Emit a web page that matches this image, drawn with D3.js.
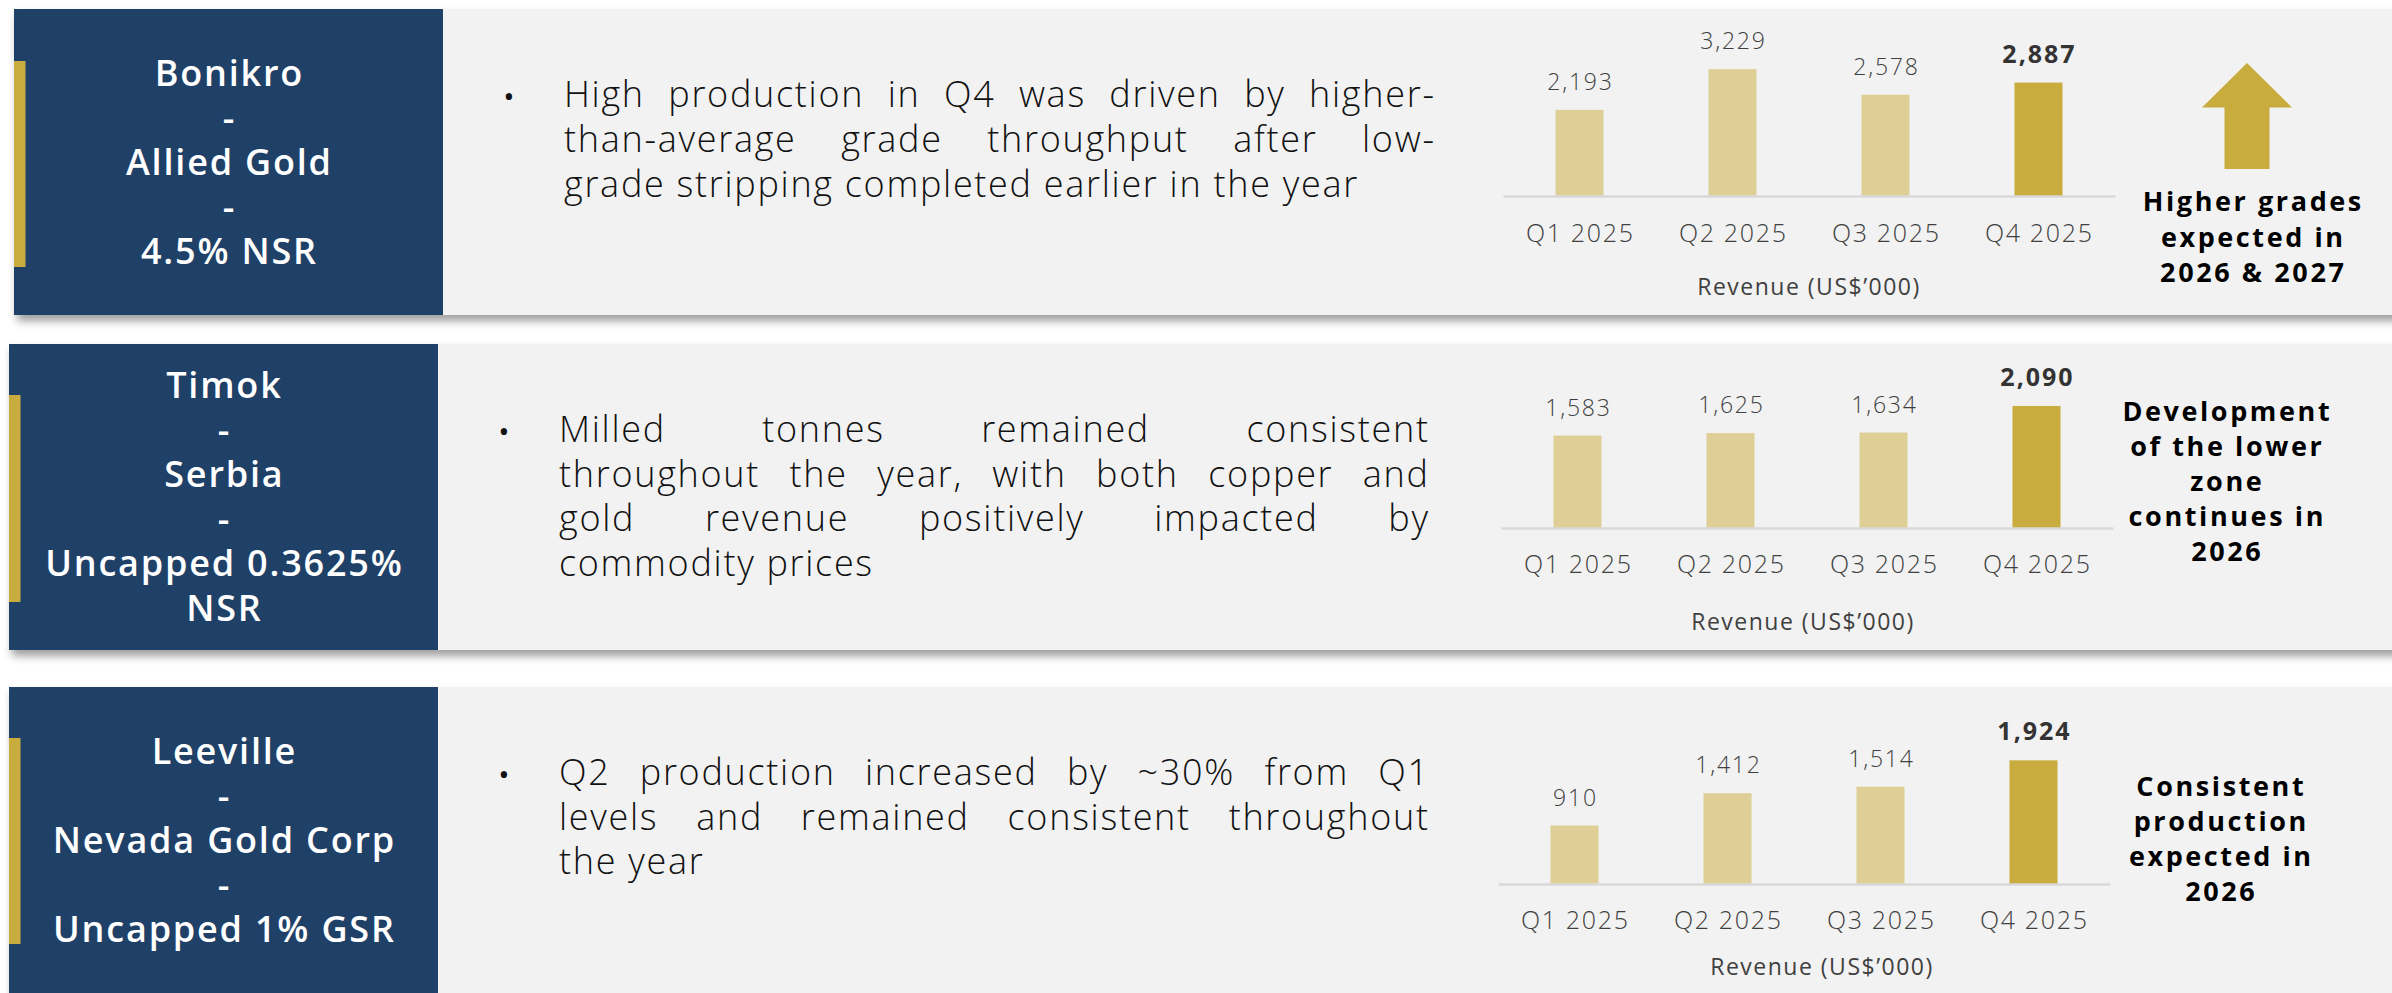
<!DOCTYPE html>
<html><head><meta charset="utf-8">
<script src="https://cdn.jsdelivr.net/npm/d3@7"></script>
<style>
html,body{margin:0;padding:0;background:#fff;}
svg{display:block;}
</style></head><body>
<svg id="chart" width="2392" height="993"></svg>
<script>
// ---------- DATA ----------
const quarters = ["Q1 2025", "Q2 2025", "Q3 2025", "Q4 2025"];
const bonikroRevenue = [2193, 3229, 2578, 2887];
const timokRevenue = [1583, 1625, 1634, 2090];
const leevilleRevenue = [910, 1412, 1514, 1924];
const axisMax = [3500, 2500, 2500];
const axisTitle = "Revenue (US$’000)";
const assetTitles = [
  ["Bonikro", "-", "Allied Gold", "-", "4.5% NSR"],
  ["Timok", "-", "Serbia", "-", "Uncapped 0.3625%", "NSR"],
  ["Leeville", "-", "Nevada Gold Corp", "-", "Uncapped 1% GSR"]
];
const bulletLines = [
  ["High production in Q4 was driven by higher-", "than-average grade throughput after low-", "grade stripping completed earlier in the year"],
  ["Milled tonnes remained consistent", "throughout the year, with both copper and", "gold revenue positively impacted by", "commodity prices"],
  ["Q2 production increased by ~30% from Q1", "levels and remained consistent throughout", "the year"]
];
const outlookLines = [
  ["Higher grades", "expected in", "2026 & 2027"],
  ["Development", "of the lower", "zone", "continues in", "2026"],
  ["Consistent", "production", "expected in", "2026"]
];
const series = [bonikroRevenue, timokRevenue, leevilleRevenue];

// ---------- LAYOUT ----------
const layout = [
  {top: 9, bottom: 315, dx0: 14, dx1: 443, gy0: 61, gy1: 267, titleY: 86,
   bulletX: 509, textX0: 564, textX1: 1434, textY: 107, textStep: 45,
   axisY: 196, axisX0: 1503, axisX1: 2115, plotH: 137.5, catY: 46, titleBase: 295, titleDx: 0,
   noteX: 2252, noteY: 211, noteStep: 35.5, arrow: true},
  {top: 344, bottom: 650, dx0: 9, dx1: 438, gy0: 395, gy1: 602, titleY: 398,
   bulletX: 504, textX0: 559, textX1: 1428, textY: 442, textStep: 44.5,
   axisY: 528, axisX0: 1501, axisX1: 2113, plotH: 146, catY: 45, titleBase: 630, titleDx: -4,
   noteX: 2226, noteY: 421, noteStep: 35, arrow: false},
  {top: 687, bottom: 1020, dx0: 9, dx1: 438, gy0: 738, gy1: 944, titleY: 764,
   bulletX: 504, textX0: 559, textX1: 1428, textY: 785, textStep: 44.5,
   axisY: 884, axisX0: 1498, axisX1: 2110, plotH: 160.7, catY: 45, titleBase: 975, titleDx: 18,
   noteX: 2220, noteY: 796, noteStep: 35, arrow: false}
];

const W = 2392, H = 993;
const FONT = "'Open Sans', 'Noto Sans', sans-serif";
const NAVY = "#1f4168", GOLD = "#c9ac3e", LIGHTGOLD = "#dfcf96", BG = "#f2f2f2", INK = "#404040";

const svg = d3.select("#chart");
const defs = svg.append("defs");
const f = defs.append("filter").attr("id", "sh").attr("x", "-5%").attr("y", "-20%").attr("width", "110%").attr("height", "150%");
f.append("feDropShadow").attr("dx", 3).attr("dy", 6).attr("stdDeviation", 4)
  .attr("flood-color", "#000").attr("flood-opacity", 0.38);

function justifyLine(g, text, x0, x1, y, justify, attrs) {
  const t = g.append("text").attr("y", y);
  Object.entries(attrs).forEach(([k, v]) => t.attr(k, v));
  if (!justify) { t.attr("x", x0).text(text); return; }
  const words = text.split(" ");
  const spans = words.map(w => t.append("tspan").text(w));
  const widths = spans.map(s => s.node().getComputedTextLength());
  const total = d3.sum(widths);
  const gap = words.length > 1 ? (x1 - x0 - total) / (words.length - 1) : 0;
  let x = x0;
  spans.forEach((s, i) => { s.attr("x", x); x += widths[i] + gap; });
}

layout.forEach((L, i) => {
  const g = svg.append("g");
  // panel background with shadow
  g.append("rect").attr("x", L.dx0).attr("y", L.top).attr("width", W - L.dx0 + 20).attr("height", L.bottom - L.top)
    .attr("fill", BG).attr("filter", "url(#sh)");
  // navy box
  g.append("rect").attr("x", L.dx0).attr("y", L.top).attr("width", L.dx1 - L.dx0).attr("height", L.bottom - L.top)
    .attr("fill", NAVY);
  // gold accent bar
  g.append("rect").attr("x", L.dx0).attr("y", L.gy0).attr("width", 11.5).attr("height", L.gy1 - L.gy0)
    .attr("fill", GOLD);

  // asset title
  const cx = (L.dx0 + L.dx1) / 2;
  g.append("g").selectAll("text").data(assetTitles[i]).join("text")
    .attr("x", cx + 0.9).attr("y", (d, j) => L.titleY + j * 44.5)
    .attr("text-anchor", "middle").attr("fill", "#fff")
    .attr("font-family", FONT).attr("font-weight", 600).attr("font-size", 36)
    .attr("letter-spacing", 1.8)
    .text(d => d);

  // bullet
  g.append("text").attr("x", L.bulletX).attr("y", L.textY).attr("text-anchor", "middle")
    .attr("font-family", FONT).attr("font-size", 30).attr("fill", "#111").text("•");
  const lines = bulletLines[i];
  lines.forEach((ln, j) => {
    justifyLine(g, ln, L.textX0, L.textX1 + 1.7, L.textY + j * L.textStep, j < lines.length - 1,
      {"font-family": FONT, "font-weight": 300, "font-size": 36, "fill": "#111", "letter-spacing": 1.7});
  });

  // chart
  const vals = series[i];
  const x = d3.scaleBand().domain(quarters).range([L.axisX0, L.axisX1]).paddingInner(0.686).paddingOuter(0.343);
  const y = d3.scaleLinear().domain([0, axisMax[i]]).range([L.axisY, L.axisY - L.plotH]);
  const last = quarters.length - 1;

  g.append("g").selectAll("rect").data(vals).join("rect")
    .attr("x", (d, j) => x(quarters[j])).attr("y", d => y(d))
    .attr("width", x.bandwidth()).attr("height", d => y(0) - y(d))
    .attr("fill", (d, j) => j === last ? GOLD : LIGHTGOLD);

  g.append("g").selectAll("text").data(vals).join("text")
    .attr("x", (d, j) => x(quarters[j]) + x.bandwidth() / 2 + 1)
    .attr("y", d => y(d) - 20)
    .attr("text-anchor", "middle").attr("font-family", FONT)
    .attr("font-weight", (d, j) => j === last ? 700 : 300)
    .attr("font-size", (d, j) => j === last ? 25 : 23)
    .attr("letter-spacing", (d, j) => j === last ? 2 : 1.8)
    .attr("fill", (d, j) => j === last ? "#333" : INK)
    .text(d => d3.format(",")(d));

  const ax = g.append("g").attr("transform", `translate(0,${L.axisY})`)
    .call(d3.axisBottom(x).tickSize(0).tickSizeOuter(0));
  ax.select(".domain").attr("stroke", "#d9d9d9").attr("stroke-width", 2.4);
  ax.selectAll("text").attr("y", L.catY).attr("dy", null).attr("x", 0.8)
    .attr("font-family", FONT).attr("font-weight", 300).attr("font-size", 25)
    .attr("letter-spacing", 1.7).attr("fill", INK);

  g.append("text").attr("x", (L.axisX0 + L.axisX1) / 2 + L.titleDx).attr("y", L.titleBase)
    .attr("text-anchor", "middle").attr("font-family", FONT).attr("font-weight", 500)
    .attr("font-size", 23).attr("letter-spacing", 1.5).attr("fill", INK).text(axisTitle);

  // outlook note
  g.append("g").selectAll("text").data(outlookLines[i]).join("text")
    .attr("x", L.noteX + 1.3).attr("y", (d, j) => L.noteY + j * L.noteStep)
    .attr("text-anchor", "middle").attr("font-family", FONT).attr("font-weight", 700)
    .attr("font-size", 27).attr("letter-spacing", 2.6).attr("fill", "#000").text(d => d);

  if (L.arrow) {
    const ax0 = 2247, tipY = 63, hw = 45, baseY = 107.5, sw = 22.5, botY = 169;
    g.append("path")
      .attr("d", `M${ax0},${tipY} L${ax0 + hw},${baseY} L${ax0 + sw},${baseY} L${ax0 + sw},${botY} L${ax0 - sw},${botY} L${ax0 - sw},${baseY} L${ax0 - hw},${baseY} Z`)
      .attr("fill", GOLD);
  }
});
</script>
</body></html>
